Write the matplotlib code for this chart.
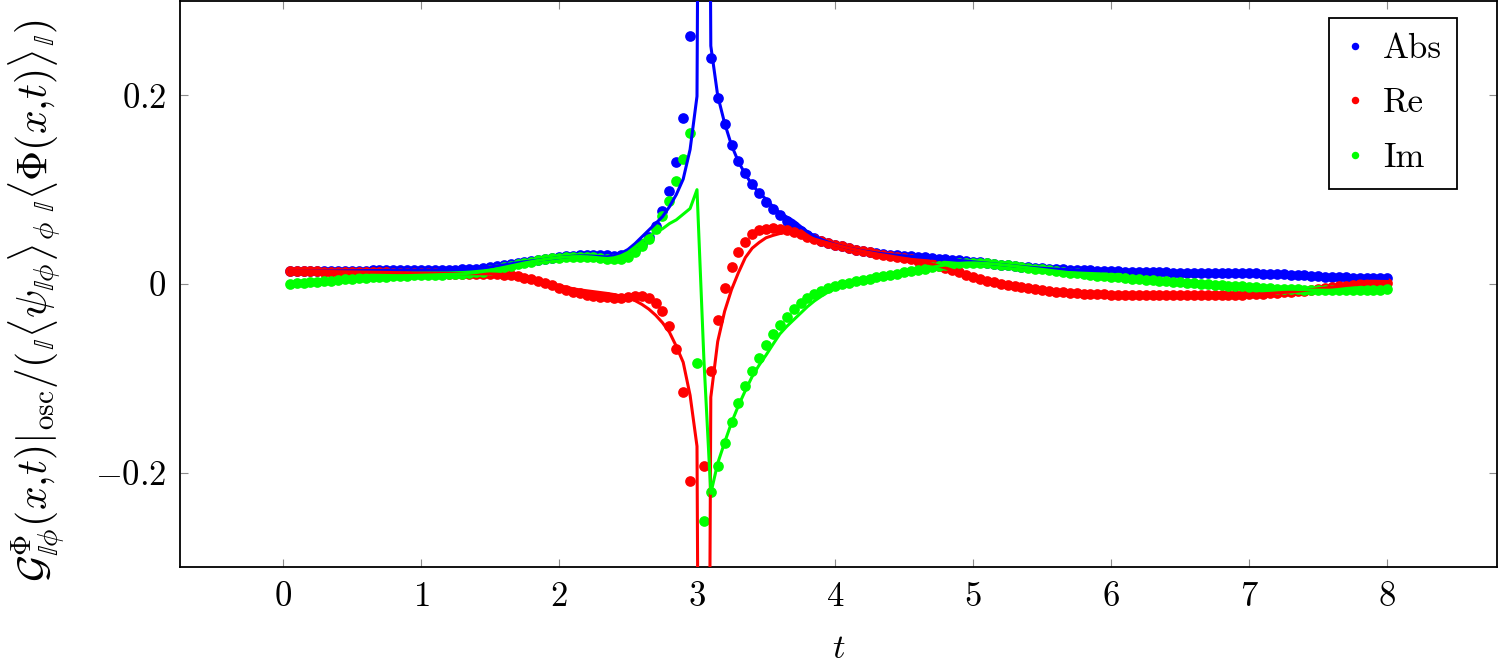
import numpy as np
import matplotlib
matplotlib.use("Agg")
import matplotlib.pyplot as plt

plt.rcParams["font.family"] = "serif"
plt.rcParams["font.serif"] = ["cmr10", "DejaVu Serif"]
plt.rcParams["mathtext.fontset"] = "cm"
plt.rcParams["axes.unicode_minus"] = False

# time grid of the samples, 0.05 ... 8.00
t_vals = np.round(np.arange(1, 161) * 0.05, 2)

# data points (dots)
abs_pts = [
    0.0133, 0.0133, 0.0134, 0.0134, 0.0135, 0.0135, 0.0137, 0.0138, 0.0139, 0.0140,
    0.0141, 0.0143, 0.0144, 0.0145, 0.0146, 0.0147, 0.0148, 0.0148, 0.0147, 0.0148,
    0.0148, 0.0148, 0.0149, 0.0149, 0.0151, 0.0154, 0.0158, 0.0164, 0.0171, 0.0180,
    0.0191, 0.0202, 0.0213, 0.0224, 0.0233, 0.0242, 0.0252, 0.0262, 0.0272, 0.0283,
    0.0292, 0.0301, 0.0307, 0.0310, 0.0310, 0.0307, 0.0303, 0.0301, 0.0305, 0.0322,
    0.0365, 0.0420, 0.0497, 0.0614, 0.0776, 0.0984, 0.1290, 0.1758, 0.2632, 0.4873,
    0.3170, 0.2394, 0.1968, 0.1691, 0.1472, 0.1309, 0.1176, 0.1062, 0.0966, 0.0872,
    0.0796, 0.0727, 0.0669, 0.0613, 0.0564, 0.0522, 0.0487, 0.0460, 0.0437, 0.0416,
    0.0398, 0.0380, 0.0365, 0.0351, 0.0339, 0.0328, 0.0319, 0.0311, 0.0305, 0.0299,
    0.0293, 0.0288, 0.0282, 0.0276, 0.0270, 0.0264, 0.0257, 0.0251, 0.0244, 0.0235,
    0.0228, 0.0220, 0.0214, 0.0206, 0.0198, 0.0191, 0.0184, 0.0178, 0.0172, 0.0167,
    0.0162, 0.0158, 0.0155, 0.0152, 0.0149, 0.0146, 0.0144, 0.0141, 0.0139, 0.0136,
    0.0135, 0.0132, 0.0131, 0.0129, 0.0127, 0.0125, 0.0123, 0.0122, 0.0121, 0.0120,
    0.0120, 0.0119, 0.0119, 0.0118, 0.0118, 0.0118, 0.0117, 0.0116, 0.0115, 0.0114,
    0.0113, 0.0111, 0.0109, 0.0106, 0.0104, 0.0100, 0.0096, 0.0092, 0.0087, 0.0082,
    0.0078, 0.0074, 0.0071, 0.0069, 0.0067, 0.0065, 0.0063, 0.0062, 0.0060, 0.0059,
]
re_pts = [
    0.0133, 0.0133, 0.0133, 0.0133, 0.0133, 0.0132, 0.0132, 0.0131, 0.0130, 0.0129,
    0.0128, 0.0127, 0.0126, 0.0124, 0.0123, 0.0121, 0.0120, 0.0118, 0.0116, 0.0115,
    0.0113, 0.0112, 0.0111, 0.0110, 0.0110, 0.0110, 0.0110, 0.0110, 0.0109, 0.0107,
    0.0104, 0.0099, 0.0092, 0.0082, 0.0068, 0.0050, 0.0030, 0.0008, -0.0015, -0.0038,
    -0.0060, -0.0080, -0.0098, -0.0113, -0.0125, -0.0135, -0.0142, -0.0145, -0.0145, -0.0140,
    -0.0132, -0.0129, -0.0147, -0.0200, -0.0290, -0.0440, -0.0690, -0.1150, -0.2090, -0.4800,
    -0.1930, -0.0920, -0.0386, -0.0046, 0.0185, 0.0336, 0.0450, 0.0530, 0.0570, 0.0586,
    0.0594, 0.0586, 0.0570, 0.0550, 0.0525, 0.0500, 0.0476, 0.0455, 0.0435, 0.0416,
    0.0398, 0.0380, 0.0364, 0.0348, 0.0334, 0.0320, 0.0308, 0.0296, 0.0285, 0.0273,
    0.0260, 0.0246, 0.0230, 0.0212, 0.0192, 0.0170, 0.0146, 0.0122, 0.0098, 0.0070,
    0.0050, 0.0032, 0.0016, 0.0002, -0.0011, -0.0023, -0.0035, -0.0046, -0.0056, -0.0065,
    -0.0073, -0.0080, -0.0087, -0.0093, -0.0098, -0.0102, -0.0106, -0.0109, -0.0111, -0.0113,
    -0.0115, -0.0116, -0.0117, -0.0118, -0.0118, -0.0118, -0.0118, -0.0119, -0.0119, -0.0119,
    -0.0119, -0.0119, -0.0119, -0.0118, -0.0118, -0.0117, -0.0116, -0.0114, -0.0112, -0.0110,
    -0.0107, -0.0104, -0.0100, -0.0095, -0.0090, -0.0084, -0.0077, -0.0069, -0.0060, -0.0050,
    -0.0041, -0.0032, -0.0024, -0.0016, -0.0009, -0.0003, 0.0003, 0.0008, 0.0012, 0.0015,
]
im_pts = [
    0.0000, 0.0006, 0.0012, 0.0018, 0.0024, 0.0030, 0.0036, 0.0042, 0.0048, 0.0054,
    0.0060, 0.0065, 0.0070, 0.0075, 0.0079, 0.0083, 0.0086, 0.0089, 0.0091, 0.0093,
    0.0095, 0.0097, 0.0099, 0.0101, 0.0104, 0.0108, 0.0114, 0.0122, 0.0132, 0.0145,
    0.0160, 0.0176, 0.0192, 0.0208, 0.0223, 0.0237, 0.0250, 0.0262, 0.0272, 0.0280,
    0.0286, 0.0290, 0.0291, 0.0289, 0.0284, 0.0276, 0.0268, 0.0264, 0.0268, 0.0290,
    0.0340, 0.0400, 0.0475, 0.0580, 0.0720, 0.0880, 0.1090, 0.1330, 0.1600, -0.0840,
    -0.2515, -0.2210, -0.1930, -0.1690, -0.1460, -0.1265, -0.1086, -0.0920, -0.0780, -0.0646,
    -0.0530, -0.0430, -0.0350, -0.0270, -0.0205, -0.0150, -0.0105, -0.0070, -0.0042, -0.0020,
    -0.0001, 0.0015, 0.0030, 0.0044, 0.0057, 0.0070, 0.0083, 0.0096, 0.0109, 0.0122,
    0.0135, 0.0149, 0.0163, 0.0177, 0.0190, 0.0202, 0.0212, 0.0219, 0.0223, 0.0224,
    0.0222, 0.0218, 0.0213, 0.0206, 0.0198, 0.0190, 0.0181, 0.0172, 0.0163, 0.0154,
    0.0145, 0.0136, 0.0128, 0.0120, 0.0112, 0.0104, 0.0097, 0.0090, 0.0083, 0.0076,
    0.0070, 0.0064, 0.0058, 0.0052, 0.0046, 0.0040, 0.0034, 0.0029, 0.0023, 0.0018,
    0.0013, 0.0008, 0.0003, -0.0001, -0.0006, -0.0011, -0.0016, -0.0021, -0.0026, -0.0031,
    -0.0035, -0.0040, -0.0044, -0.0048, -0.0052, -0.0055, -0.0058, -0.0061, -0.0063, -0.0065,
    -0.0066, -0.0067, -0.0067, -0.0067, -0.0066, -0.0065, -0.0063, -0.0061, -0.0059, -0.0057,
]

# curves (solid lines), same time grid
abs_line = [
    0.0133, 0.0133, 0.0134, 0.0134, 0.0135, 0.0135, 0.0137, 0.0138, 0.0139, 0.0140,
    0.0141, 0.0143, 0.0144, 0.0145, 0.0146, 0.0147, 0.0148, 0.0148, 0.0147, 0.0148,
    0.0148, 0.0148, 0.0149, 0.0149, 0.0151, 0.0154, 0.0158, 0.0164, 0.0171, 0.0180,
    0.0191, 0.0202, 0.0213, 0.0225, 0.0235, 0.0244, 0.0254, 0.0263, 0.0272, 0.0280,
    0.0288, 0.0294, 0.0298, 0.0298, 0.0295, 0.0290, 0.0288, 0.0300, 0.0326, 0.0366,
    0.0427, 0.0499, 0.0570, 0.0641, 0.0714, 0.0818, 0.0948, 0.1112, 0.1426, 0.1990,
    1.6020, 0.2524, 0.1996, 0.1705, 0.1471, 0.1296, 0.1164, 0.1051, 0.0966, 0.0899,
    0.0821, 0.0753, 0.0711, 0.0669, 0.0610, 0.0555, 0.0509, 0.0473, 0.0443, 0.0419,
    0.0399, 0.0380, 0.0365, 0.0351, 0.0339, 0.0328, 0.0319, 0.0311, 0.0305, 0.0299,
    0.0293, 0.0288, 0.0282, 0.0276, 0.0270, 0.0264, 0.0257, 0.0251, 0.0244, 0.0235,
    0.0228, 0.0220, 0.0214, 0.0206, 0.0198, 0.0191, 0.0184, 0.0178, 0.0172, 0.0167,
    0.0162, 0.0158, 0.0155, 0.0152, 0.0149, 0.0146, 0.0144, 0.0141, 0.0139, 0.0136,
    0.0135, 0.0132, 0.0131, 0.0129, 0.0127, 0.0125, 0.0123, 0.0122, 0.0121, 0.0120,
    0.0120, 0.0119, 0.0119, 0.0118, 0.0118, 0.0118, 0.0117, 0.0116, 0.0115, 0.0114,
    0.0113, 0.0111, 0.0109, 0.0106, 0.0104, 0.0100, 0.0096, 0.0092, 0.0087, 0.0082,
    0.0078, 0.0074, 0.0071, 0.0069, 0.0067, 0.0065, 0.0063, 0.0062, 0.0060, 0.0059,
]
re_line = [
    0.0133, 0.0133, 0.0133, 0.0133, 0.0133, 0.0132, 0.0132, 0.0131, 0.0130, 0.0129,
    0.0128, 0.0127, 0.0126, 0.0124, 0.0123, 0.0121, 0.0120, 0.0118, 0.0116, 0.0115,
    0.0113, 0.0112, 0.0111, 0.0110, 0.0110, 0.0110, 0.0110, 0.0110, 0.0109, 0.0107,
    0.0104, 0.0099, 0.0092, 0.0085, 0.0074, 0.0060, 0.0044, 0.0026, 0.0005, -0.0015,
    -0.0033, -0.0050, -0.0062, -0.0072, -0.0081, -0.0090, -0.0100, -0.0112, -0.0128, -0.0148,
    -0.0175, -0.0215, -0.0265, -0.0330, -0.0410, -0.0510, -0.0660, -0.0830, -0.1180, -0.1720,
    -1.6000, -0.1200, -0.0610, -0.0290, -0.0060, 0.0120, 0.0280, 0.0380, 0.0440, 0.0490,
    0.0515, 0.0535, 0.0550, 0.0550, 0.0525, 0.0500, 0.0476, 0.0455, 0.0435, 0.0416,
    0.0398, 0.0380, 0.0364, 0.0348, 0.0334, 0.0320, 0.0308, 0.0296, 0.0285, 0.0273,
    0.0260, 0.0246, 0.0230, 0.0212, 0.0192, 0.0170, 0.0146, 0.0122, 0.0098, 0.0070,
    0.0050, 0.0032, 0.0016, 0.0002, -0.0011, -0.0023, -0.0035, -0.0046, -0.0056, -0.0065,
    -0.0073, -0.0080, -0.0087, -0.0093, -0.0098, -0.0102, -0.0106, -0.0109, -0.0111, -0.0113,
    -0.0115, -0.0116, -0.0117, -0.0118, -0.0118, -0.0118, -0.0118, -0.0119, -0.0119, -0.0119,
    -0.0119, -0.0119, -0.0119, -0.0118, -0.0118, -0.0117, -0.0116, -0.0114, -0.0112, -0.0110,
    -0.0107, -0.0104, -0.0100, -0.0095, -0.0090, -0.0084, -0.0077, -0.0069, -0.0060, -0.0050,
    -0.0041, -0.0032, -0.0024, -0.0016, -0.0009, -0.0003, 0.0003, 0.0008, 0.0012, 0.0015,
]
im_line = [
    0.0000, 0.0006, 0.0012, 0.0018, 0.0024, 0.0030, 0.0036, 0.0042, 0.0048, 0.0054,
    0.0060, 0.0065, 0.0070, 0.0075, 0.0079, 0.0083, 0.0086, 0.0089, 0.0091, 0.0093,
    0.0095, 0.0097, 0.0099, 0.0101, 0.0104, 0.0108, 0.0114, 0.0122, 0.0132, 0.0145,
    0.0160, 0.0176, 0.0192, 0.0208, 0.0223, 0.0237, 0.0250, 0.0262, 0.0272, 0.0280,
    0.0286, 0.0290, 0.0291, 0.0289, 0.0284, 0.0276, 0.0270, 0.0278, 0.0300, 0.0335,
    0.0390, 0.0450, 0.0505, 0.0550, 0.0585, 0.0640, 0.0680, 0.0740, 0.0800, 0.1000,
    -0.0800, -0.2220, -0.1900, -0.1680, -0.1470, -0.1290, -0.1130, -0.0980, -0.0860, -0.0754,
    -0.0640, -0.0530, -0.0450, -0.0380, -0.0310, -0.0240, -0.0180, -0.0130, -0.0085, -0.0050,
    -0.0022, 0.0000, 0.0020, 0.0044, 0.0057, 0.0070, 0.0083, 0.0096, 0.0109, 0.0122,
    0.0135, 0.0149, 0.0163, 0.0177, 0.0190, 0.0202, 0.0212, 0.0219, 0.0223, 0.0224,
    0.0222, 0.0218, 0.0213, 0.0206, 0.0198, 0.0190, 0.0181, 0.0172, 0.0163, 0.0154,
    0.0145, 0.0136, 0.0128, 0.0120, 0.0112, 0.0104, 0.0097, 0.0090, 0.0083, 0.0076,
    0.0070, 0.0064, 0.0058, 0.0052, 0.0046, 0.0040, 0.0034, 0.0029, 0.0023, 0.0018,
    0.0013, 0.0008, 0.0003, -0.0001, -0.0006, -0.0011, -0.0016, -0.0021, -0.0026, -0.0031,
    -0.0035, -0.0040, -0.0044, -0.0048, -0.0052, -0.0055, -0.0058, -0.0061, -0.0063, -0.0065,
    -0.0066, -0.0067, -0.0067, -0.0067, -0.0066, -0.0065, -0.0063, -0.0061, -0.0059, -0.0057,
]

x_ticks = [0, 1, 2, 3, 4, 5, 6, 7, 8]
y_ticks = [-0.2, 0, 0.2]
y_tick_labels = [r"$-0.2$", r"$0$", r"$0.2$"]

BLUE = "#0000ff"
RED = "#ff0000"
GREEN = "#00ff00"

fig = plt.figure(figsize=(14.99, 6.63), dpi=100)
ax = fig.add_axes([180 / 1499, 1 - 567 / 663, (1497 - 180) / 1499, (567 - 1) / 663])

# dots first
ax.plot(t_vals, abs_pts, "o", color=BLUE, ms=7.7, mec="none", label="Abs", zorder=3)
ax.plot(t_vals, re_pts, "o", color=RED, ms=7.7, mec="none", label="Re", zorder=3)
ax.plot(t_vals, im_pts, "o", color=GREEN, ms=7.7, mec="none", label="Im", zorder=3)
# then the curves
ax.plot(t_vals, abs_line, "-", color=BLUE, lw=2.2, zorder=4)
ax.plot(t_vals, re_line, "-", color=RED, lw=2.2, zorder=4)
ax.plot(t_vals, im_line, "-", color=GREEN, lw=2.2, zorder=4)

ax.set_xlim(-0.745, 8.795)
ax.set_ylim(-0.3, 0.3)
ax.set_xticks(x_ticks)
ax.set_xticklabels([r"$%d$" % v for v in x_ticks])
ax.set_yticks(y_ticks)
ax.set_yticklabels(y_tick_labels)
ax.tick_params(direction="in", length=6, width=0.8, color="0.55",
               top=True, right=True, labelsize=25, pad=10)
for sp in ax.spines.values():
    sp.set_linewidth(1.3)
    sp.set_color("black")

ax.set_xlabel(r"$t$", fontsize=25)
ax.xaxis.set_label_coords(0.5, -0.118)
ax.set_ylabel(r"$\mathcal{G}^{\Phi}_{\mathbb{I}\phi}(x{,}t)|_{\mathrm{osc}}"
              r"/({}_{\mathbb{I}}\langle\psi_{\mathbb{I}\phi}\rangle_{\phi}"
              r"\,{}_{\mathbb{I}}\langle\Phi(x{,}t)\rangle_{\mathbb{I}})$",
              fontsize=30)
ax.yaxis.set_label_coords(-0.086, 0.47)

leg = ax.legend(loc="upper right", bbox_to_anchor=(0.970, 0.970), borderaxespad=0,
                fancybox=False, edgecolor="black", framealpha=1, fontsize=25,
                markerscale=0.7, handlelength=0.6, handletextpad=0.5,
                labelspacing=0.65, borderpad=0.45)
leg.get_frame().set_linewidth(1.3)

fig.savefig("out.png", dpi=100)
